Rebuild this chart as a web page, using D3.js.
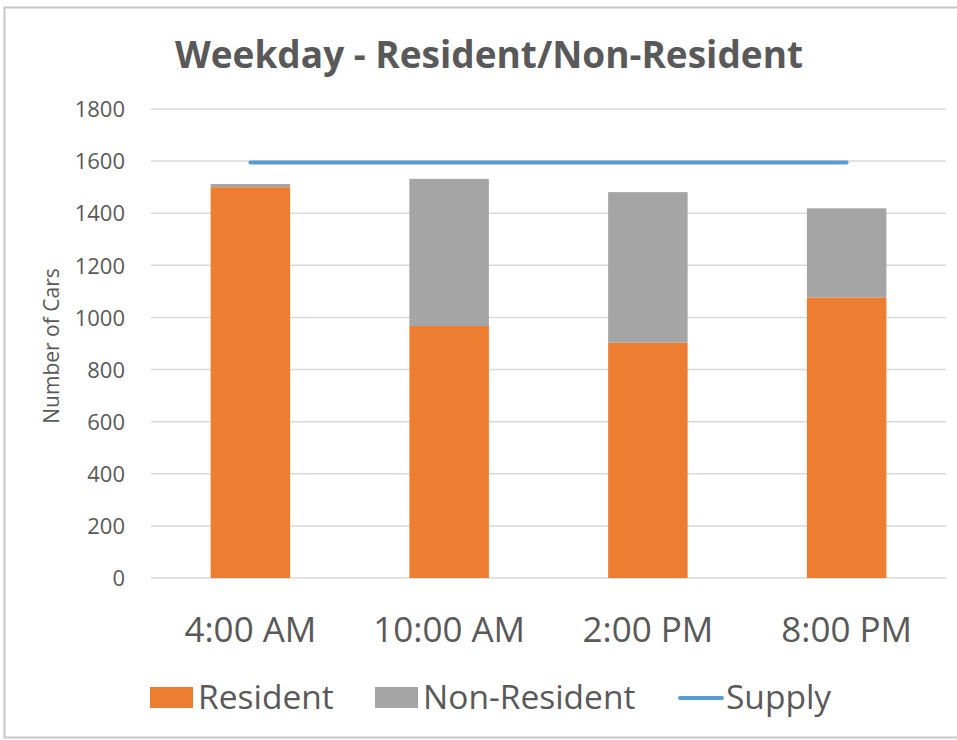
<!DOCTYPE html>
<html>
<head>
<meta charset="utf-8">
<script src="https://cdn.jsdelivr.net/npm/d3@7"></script>
<style>
  body { margin: 0; background: #fff; }
  svg { display: block; font-family: "Open Sans", sans-serif; }
</style>
</head>
<body>
<div id="chart"></div>
<script>
const categories = ['4:00 AM', '10:00 AM', '2:00 PM', '8:00 PM'];
const resident = [1500, 967, 903, 1077];
const nonResident = [12, 565, 578, 342];
const supply = [1595, 1595, 1595, 1595];
const yTicks = [0, 200, 400, 600, 800, 1000, 1200, 1400, 1600, 1800];

const width = 957;
const height = 740;
const margin = { top: 109, right: 11, bottom: 162, left: 151 };
const textColor = '#595959';

const svg = d3.select('#chart')
  .append('svg')
  .attr('width', width)
  .attr('height', height);

// outer chart border
svg.append('rect')
  .attr('x', 4.5)
  .attr('y', 7.5)
  .attr('width', 960)
  .attr('height', 730)
  .attr('fill', 'none')
  .attr('stroke', '#c8c8c8')
  .attr('stroke-width', 2);

const x = d3.scaleBand()
  .domain(categories)
  .range([margin.left, width - margin.right])
  .paddingInner(0.6)
  .paddingOuter(0.3);

const y = d3.scaleLinear()
  .domain([0, 1800])
  .range([height - margin.bottom, margin.top]);

// gridlines
svg.append('g')
  .selectAll('line')
  .data(yTicks)
  .enter()
  .append('line')
  .attr('x1', margin.left)
  .attr('x2', width - margin.right)
  .attr('y1', d => y(d))
  .attr('y2', d => y(d))
  .attr('stroke', '#d9d9d9')
  .attr('stroke-width', 1.5);

// y axis labels
const yAxis = svg.append('g')
  .attr('transform', `translate(${margin.left - 26},0)`)
  .call(d3.axisLeft(y).tickValues(yTicks).tickFormat(d3.format('d')).tickSize(0).tickPadding(0))
  .attr('font-family', null)
  .attr('font-size', null);
yAxis.select('.domain').remove();
yAxis.selectAll('text')
  .attr('fill', textColor)
  .style('font-size', '22px')
  .attr('dy', '0.35em');

// stacked bars
const rows = categories.map((c, i) => ({ cat: c, resident: resident[i], nonResident: nonResident[i] }));
const stack = d3.stack().keys(['resident', 'nonResident'])(rows);
const colors = { resident: '#ed7d31', nonResident: '#a5a5a5' };

svg.append('g')
  .selectAll('g')
  .data(stack)
  .enter()
  .append('g')
  .attr('fill', d => colors[d.key])
  .selectAll('rect')
  .data(d => d)
  .enter()
  .append('rect')
  .attr('x', d => x(d.data.cat))
  .attr('width', x.bandwidth())
  .attr('y', d => y(d[1]))
  .attr('height', d => y(d[0]) - y(d[1]));

// supply line
const line = d3.line()
  .x((d, i) => x(categories[i]) + x.bandwidth() / 2)
  .y(d => y(d));

svg.append('path')
  .datum(supply)
  .attr('d', line)
  .attr('fill', 'none')
  .attr('stroke', '#5b9bd5')
  .attr('stroke-width', 4)
  .attr('stroke-linecap', 'round');

// x axis labels
const xAxis = svg.append('g')
  .attr('transform', `translate(0,${height - margin.bottom})`)
  .call(d3.axisBottom(x).tickSize(0).tickPadding(0))
  .attr('font-family', null)
  .attr('font-size', null);
xAxis.select('.domain').remove();
xAxis.selectAll('text')
  .attr('fill', textColor)
  .attr('y', 64)
  .attr('dy', 0)
  .style('font-size', '35px');

// title
svg.append('text')
  .attr('x', 489)
  .attr('y', 68)
  .attr('text-anchor', 'middle')
  .attr('fill', textColor)
  .style('font-size', '37px')
  .style('font-weight', 'bold')
  .text('Weekday - Resident/Non-Resident');

// y axis title
svg.append('text')
  .attr('transform', 'translate(59,346) rotate(-90)')
  .attr('text-anchor', 'middle')
  .attr('fill', textColor)
  .style('font-size', '21px')
  .text('Number of Cars');

// legend
const legendItems = [
  { name: 'Resident', type: 'rect', color: colors.resident, x: 150 },
  { name: 'Non-Resident', type: 'rect', color: colors.nonResident, x: 375 },
  { name: 'Supply', type: 'line', color: '#5b9bd5', x: 678 }
];

const legend = svg.append('g');
legendItems.forEach(item => {
  if (item.type === 'rect') {
    legend.append('rect')
      .attr('x', item.x)
      .attr('y', 687)
      .attr('width', 43)
      .attr('height', 21)
      .attr('fill', item.color);
  } else {
    legend.append('line')
      .attr('x1', item.x + 2)
      .attr('x2', item.x + 44)
      .attr('y1', 698)
      .attr('y2', 698)
      .attr('stroke', item.color)
      .attr('stroke-width', 4)
      .attr('stroke-linecap', 'round');
  }
  legend.append('text')
    .attr('x', item.x + 48)
    .attr('y', 709)
    .attr('fill', textColor)
    .style('font-size', '33.5px')
    .text(item.name);
});
</script>
</body>
</html>
